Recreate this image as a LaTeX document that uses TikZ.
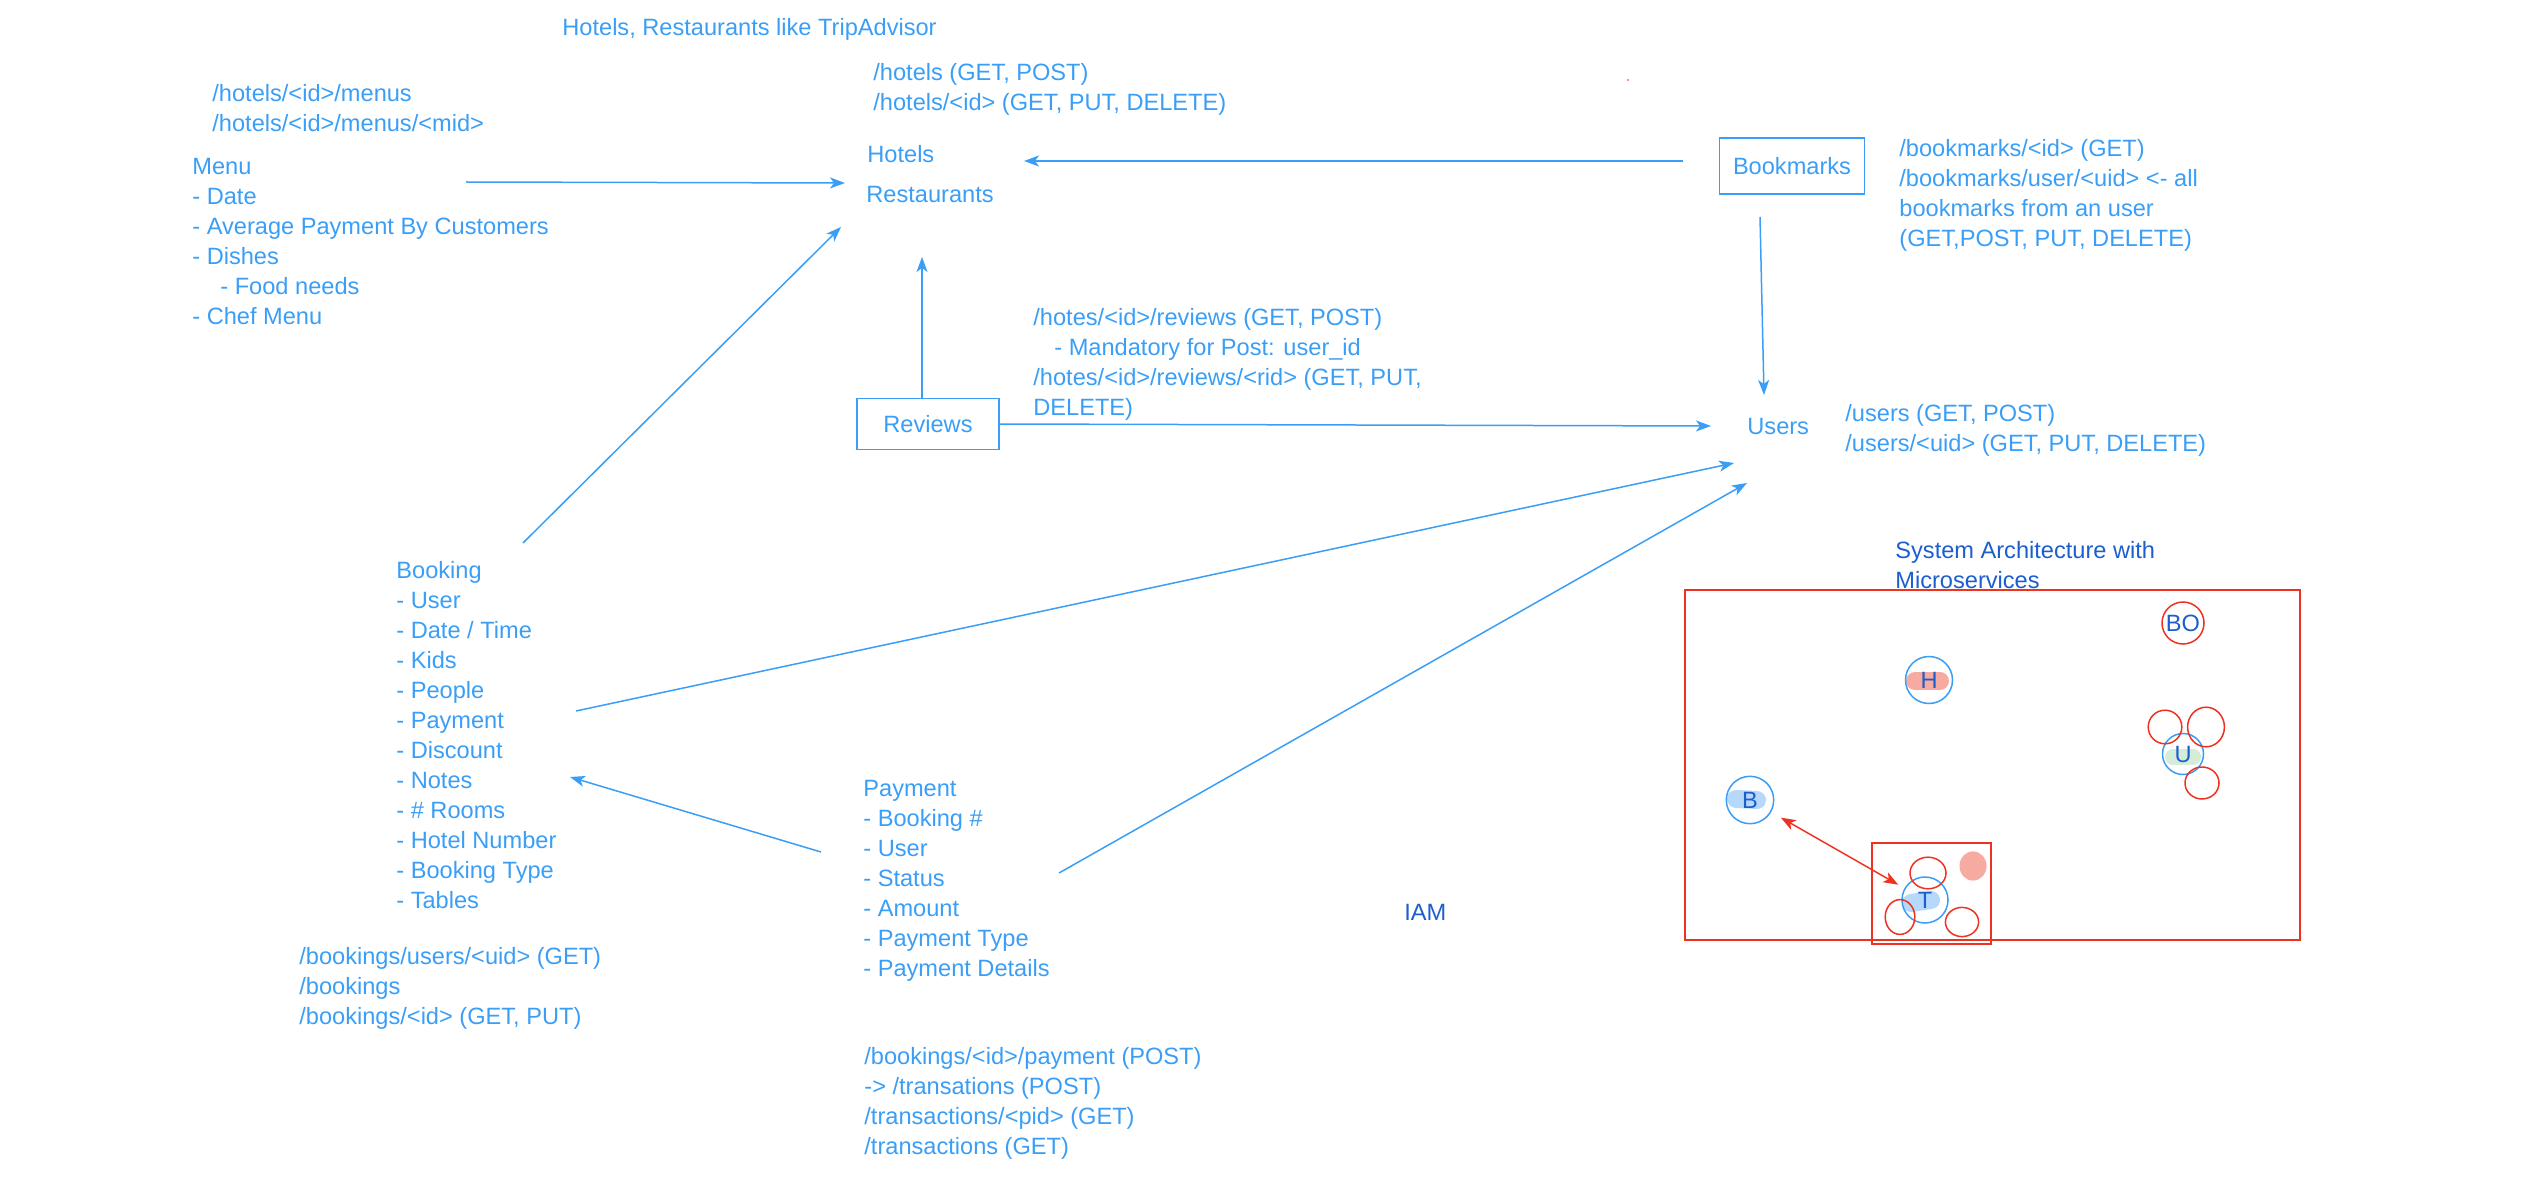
\documentclass[tikz,border=0pt]{standalone}
\usepackage{fontspec}
\setmainfont{Liberation Sans}
\usetikzlibrary{positioning, calc, arrows.meta}
\tikzset{>={Stealth[length=7.5pt, width=5.5pt, inset=2pt]}}
\definecolor{skyblue}{RGB}{58,158,246}
\definecolor{inkblue}{RGB}{28,94,206}
\definecolor{penred}{RGB}{238,50,34}
\definecolor{blush}{RGB}{247,170,160}
\definecolor{haze}{RGB}{182,216,250}
\definecolor{mint}{RGB}{212,236,216}
\newcommand{\sketchfont}{\fontsize{11.8pt}{15pt}\selectfont}

\begin{document}
\begin{tikzpicture}[x=0.5pt, y=-0.5pt,
  txt/.style={text=skyblue, font=\sketchfont, inner sep=0, anchor=north west, align=left},
  head/.style={txt, text=inkblue},
  entity/.style={draw=skyblue, line width=0.75pt, text=skyblue, font=\sketchfont, inner sep=0},
  link/.style={->, draw=skyblue, line width=0.75pt},
  svc/.style={circle, draw=#1, line width=0.75pt, text=inkblue, font=\sketchfont, inner sep=0},
  ring/.style={draw=penred, line width=0.75pt},
  smear/.style={line width=9pt, line cap=round}]
  \useasboundingbox (0,0) rectangle (2527,1187);

  % resources and their routes
  \node[txt] (title) at (562,18) {Hotels, Restaurants like TripAdvisor};
  \node[txt] (menuapi) at (212,84) {/hotels/<id>/menus\\/hotels/<id>/menus/<mid>};
  \node[txt] (menu) at (192,158) {Menu\\- Date\\- Average Payment By Customers\\- Dishes\\\hspace*{14pt}- Food needs\\- Chef Menu};
  \node[txt] (hotelapi) at (873,63) {/hotels (GET, POST)\\/hotels/<id> (GET, PUT, DELETE)};
  \node[txt] (hotels) at (867,145) {Hotels};
  \node[txt] (rest) at (866,186) {Restaurants};
  \node[entity, minimum width=72.5pt, minimum height=28pt] (bookmarks) at (1792,166) {Bookmarks};
  \node[txt] (bmapi) at (1899,139) {/bookmarks/<id> (GET)\\/bookmarks/user/<uid> <- all\\bookmarks from an user\\(GET,POST, PUT, DELETE)};
  \node[txt] (revapi) at (1033,308) {/hotes/<id>/reviews (GET, POST)\\\hspace*{10.5pt}- Mandatory for Post: user\_id\\/hotes/<id>/reviews/<rid> (GET, PUT,\\DELETE)};
  \node[entity, minimum width=71pt, minimum height=25.5pt] (reviews) at (928,424) {Reviews};
  \node[txt] (users) at (1747,418) {Users};
  \node[txt] (usersapi) at (1845,404) {/users (GET, POST)\\/users/<uid> (GET, PUT, DELETE)};
  \node[txt] (booking) at (396,561) {Booking\\- User\\- Date / Time\\- Kids\\- People\\- Payment\\- Discount\\- Notes\\- \# Rooms\\- Hotel Number\\- Booking Type\\- Tables};
  \node[txt] (bookapi) at (299,947) {/bookings/users/<uid> (GET)\\/bookings\\/bookings/<id> (GET, PUT)};
  \node[txt] (payment) at (863,780) {Payment\\- Booking \#\\- User\\- Status\\- Amount\\- Payment Type\\- Payment Details};
  \node[txt] (payapi) at (864,1047) {/bookings/<id>/payment (POST)\\-> /transations (POST)\\/transactions/<pid> (GET)\\/transactions (GET)};
  \node[head] (iam) at (1404,904) {IAM};
  \fill[penred!70] (1628,80) circle (0.6pt);

  \coordinate (menuout) at (466,182);
  \coordinate (restin) at (845,183);
  \coordinate (bmout) at (1683,161);
  \coordinate (hotelin) at (1024,161);
  \coordinate (bmdown) at (1760,217);
  \coordinate (usertop) at (1764,395);
  \coordinate (restbot) at (922,257);
  \coordinate (userrev) at (1711,426);
  \coordinate (bookup) at (523,543);
  \coordinate (restlow) at (841,227);
  \coordinate (bookout) at (576,711);
  \coordinate (userleft) at (1734,463);
  \coordinate (payleft) at (821,852);
  \coordinate (bookin) at (570,777);
  \coordinate (payout) at (1059,873);
  \coordinate (userlow) at (1747,483);

  \draw[link] (menuout) -- (restin);
  \draw[link] (bmout) -- (hotelin);
  \draw[link] (bmdown) -- (usertop);
  \draw[link] (reviews.north -| restbot) -- (restbot);
  \draw[link] (reviews.east) -- (userrev);
  \draw[link] (bookup) -- (restlow);
  \draw[link] (bookout) -- (userleft);
  \draw[link] (payleft) -- (bookin);
  \draw[link] (payout) -- (userlow);

  % microservices sketch
  \node[head] (arch) at (1895,541) {System Architecture with\\Microservices};
  \draw[ring] (1685,590) rectangle (2300,940);
  \draw[ring] (1872,843) rectangle (1991,944);
  \draw[smear, blush] (1915,681) -- (1940,681);
  \draw[smear, haze] (1736,799) -- (1757,800);
  \draw[smear, mint, line width=8pt] (2173,757) -- (2193,757);
  \draw[smear, haze] (1911,903) -- (1931,900);
  \fill[blush] (1973,866) ellipse [x radius=6.75pt, y radius=7.3pt];
  \node[svc=penred, minimum size=21pt] (bo) at (2183,623) {BO};
  \node[svc=skyblue, minimum size=23.5pt] (h) at (1929,680) {H};
  \node[svc=skyblue, minimum size=20.5pt] (u) at (2183,754) {U};
  \node[svc=skyblue, minimum size=23.7pt] (b) at (1750,800) {B};
  \node[svc=skyblue, minimum size=23pt] (t) at (1925,900) {T};
  \draw[ring] (2165,727) ellipse [x radius=8.4pt, y radius=8.4pt];
  \draw[ring] (2206,727) ellipse [x radius=9.2pt, y radius=9.9pt];
  \draw[ring] (2202,783) ellipse [x radius=8.5pt, y radius=8pt];
  \draw[ring] (1928,873) ellipse [x radius=9pt, y radius=7.9pt];
  \draw[ring] (1900,917) ellipse [x radius=7.4pt, y radius=8.7pt];
  \draw[ring] (1962,922) ellipse [x radius=8.3pt, y radius=7.3pt];
  \draw[<->, penred, line width=0.75pt, shorten <=5.5pt, shorten >=3.5pt] (b) -- (t);
\end{tikzpicture}
\end{document}
